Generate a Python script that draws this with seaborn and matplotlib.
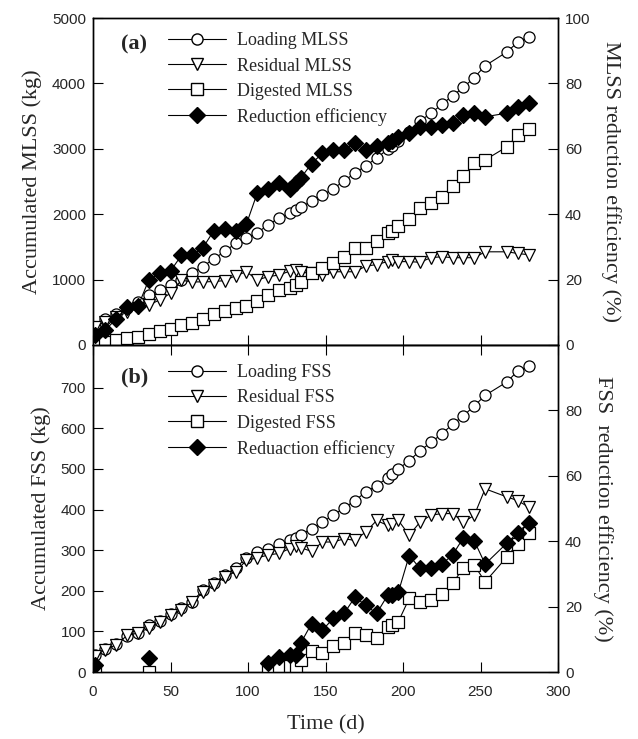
import numpy as np
import pandas as pd
import seaborn as sns
import matplotlib.pyplot as plt
from matplotlib.lines import Line2D

# sampling days (shared by both panels)
days = [1, 8, 15, 22, 29, 36, 43, 50, 57, 64, 71, 78, 85, 92, 99, 106, 113, 120, 127, 131, 134,
        141, 148, 155, 162, 169, 176, 183, 190, 193, 197, 204, 211, 218, 225, 232, 239, 246, 253,
        267, 274, 281]

# panel (a) MLSS, kg and %
loading_mlss = [270, 400, 480, 570, 660, 760, 840, 915, 1000, 1100, 1200, 1320, 1430, 1555, 1640,
                1715, 1840, 1940, 2020, 2070, 2105, 2200, 2290, 2390, 2510, 2630, 2740, 2860, 2990,
                3050, 3120, 3260, 3430, 3540, 3680, 3810, 3940, 4090, 4270, 4480, 4630, 4710]
residual_mlss = [280, 350, 430, 500, 560, 610, 690, 790, 990, 965, 965, 970, 985, 1060, 1120,
                 995, 1045, 1070, 1130, 1140, 1110, 1100, 1070, 1120, 1120, 1120, 1205, 1230, 1275,
                 1300, 1275, 1275, 1265, 1335, 1350, 1335, 1335, 1335, 1425, 1425, 1400, 1380]
digested_mlss = [20, 50, 76, 100, 127, 175, 215, 250, 300, 340, 400, 470, 520, 560, 600, 670, 760,
                 840, 875, 920, 960, 1095, 1170, 1260, 1350, 1480, 1480, 1595, 1710, 1740, 1815,
                 1925, 2100, 2170, 2270, 2425, 2580, 2780, 2830, 3030, 3210, 3310]
eff_mlss = [3, 4.6, 8, 11.7, 11.8, 19.9, 21.9, 22.6, 27.4, 27.4, 29.8, 35, 35.6, 35, 37, 46.5,
            47.8, 49.4, 47.8, 49.5, 51, 55.5, 58.6, 59.6, 59.6, 61.7, 59.6, 61, 61.7, 62.5, 63.7,
            64.7, 66.7, 66.7, 67.3, 67.8, 70.3, 70.9, 69.8, 70.9, 72.9, 73.9]

# panel (b) FSS, kg and %  (nan = not measured)
nan = np.nan
loading_fss = [42, 57, 68, 88, 97, 115, 125, 143, 158, 173, 202, 220, 238, 256, 281, 295, 303,
               314, 324, 330, 338, 353, 369, 386, 404, 422, 443, 459, 478, 488, 500, 520, 545, 565,
               586, 610, 631, 655, 681, 714, 741, 753]
residual_fss = [40, 55, 67, 90, 96, 108, 122, 140, 153, 172, 196, 214, 234, 247, 275, 281, 288,
                292, 304, 310, 306, 297, 320, 320, 328, 324, 345, 373, 361, 365, 373, 337, 369, 386,
                390, 390, 369, 386, 451, 431, 422, 406]
digested_fss = [0, nan, nan, nan, nan, 0, nan, nan, nan, nan, nan, nan, nan, nan, nan, nan, 3,
                14, 14, 14, 30, 52, 47, 63, 71, 96, 92, 83, 112, 116, 124, 181, 173, 177, 192, 218,
                257, 263, 222, 283, 316, 342]
eff_fss = [2.2, nan, nan, nan, nan, 4.2, nan, nan, nan, nan, nan, nan, nan, nan, nan, nan, 2.7,
           4.7, 5.3, 5.3, 8.8, 14.8, 12.8, 16.4, 17.9, 22.9, 20.4, 17.9, 23.4, 23.4, 24.4, 35.6,
           31.7, 31.7, 33, 35.8, 41.1, 40.1, 33, 39.4, 42.6, 45.7]

sns.set_theme(style="ticks")
plt.rcParams['font.family'] = ['Liberation Sans', 'DejaVu Sans']
serif = 'Liberation Serif'

styles = {'o': 'white', 'v': 'white', 's': 'white', 'D': 'black'}


def draw(ax, x, y, marker, ms=8):
    # split on missing values so gaps are not joined
    df = pd.DataFrame({'x': x, 'y': y})
    seg = df['y'].isna().cumsum()
    for _, part in df[df['y'].notna()].groupby(seg[df['y'].notna()]):
        sns.lineplot(data=part, x='x', y='y', ax=ax, color='black', lw=0.8, marker=marker,
                     ms=ms, mfc=styles[marker], mec='black', mew=0.9, estimator=None,
                     legend=False, zorder=3)


fig = plt.figure(figsize=(6.38, 7.39), dpi=100)
L, W = 93 / 638, (558 - 93) / 638
ax1 = fig.add_axes([L, 1 - 345 / 739, W, 327 / 739])
ax2 = fig.add_axes([L, 1 - 672 / 739, W, 327 / 739])
ax1r = ax1.twinx()
ax2r = ax2.twinx()

# panel (a)
draw(ax1, days, loading_mlss, 'o')
draw(ax1, days, residual_mlss, 'v')
draw(ax1, days, digested_mlss, 's')
draw(ax1r, days, eff_mlss, 'D', ms=8)
ax1.set_ylim(0, 5000)
ax1.set_yticks(range(0, 5001, 1000))
ax1r.set_ylim(0, 100)
ax1r.set_yticks(range(0, 101, 20))

# panel (b)
draw(ax2, days, loading_fss, 'o')
draw(ax2, days, residual_fss, 'v')
draw(ax2, days, digested_fss, 's')
draw(ax2r, days, eff_fss, 'D', ms=8)
ax2.set_ylim(0, 805)
ax2.set_yticks(range(0, 701, 100))
ax2r.set_ylim(0, 100)
ax2r.set_yticks(range(0, 81, 20))

for ax in (ax1, ax2):
    ax.set_xlim(0, 300)
    ax.set_xticks(range(0, 301, 50))
for ax in (ax1, ax1r, ax2, ax2r):
    ax.tick_params(direction='in', length=7, width=0.8, labelsize=11, color='black', pad=5)
    for s in ax.spines.values():
        s.set_linewidth(1.0)
        s.set_color('black')
    ax.set_xlabel('')
    ax.set_ylabel('')
ax1.tick_params(axis='x', labelbottom=False)
ax2.tick_params(axis='x', top=True, pad=9)

lab = dict(fontsize=16, family=serif)
ax1.set_ylabel('Accumulated MLSS (kg)', labelpad=7, **lab)
ax1r.set_ylabel('MLSS reduction efficiency (%)', rotation=270, labelpad=22, **lab)
ax2.set_ylabel('Accumulated FSS (kg)', labelpad=7, **lab)
ax2r.set_ylabel('FSS  reduction efficiency (%)', rotation=270, labelpad=22, **lab)
ax2.set_xlabel('Time (d)', labelpad=12, **lab)

ax1.text(0.06, 0.95, '(a)', transform=ax1.transAxes, fontsize=16, fontweight='bold',
         family=serif, va='top')
ax2.text(0.06, 0.93, '(b)', transform=ax2.transAxes, fontsize=16, fontweight='bold',
         family=serif, va='top')


def handles(names):
    out = []
    for m, n in zip(['o', 'v', 's', 'D'], names):
        out.append(Line2D([], [], color='black', lw=0.8, marker=m, ms=8, mfc=styles[m],
                          mec='black', label=n))
    return out


for ax, names, top in ((ax1r, ['Loading MLSS', 'Residual MLSS', 'Digested MLSS', 'Reduction efficiency'], 1.0),
                       (ax2r, ['Loading FSS', 'Residual FSS', 'Digested FSS', 'Reduaction efficiency'], 0.985)):
    ax.legend(handles=handles(names), loc='upper left', bbox_to_anchor=(0.13, top),
              frameon=False, prop={'family': serif, 'size': 13}, handlelength=3.2,
              labelspacing=0.45, handletextpad=0.6, borderaxespad=0.4)

fig.savefig('out.png', dpi=100)
